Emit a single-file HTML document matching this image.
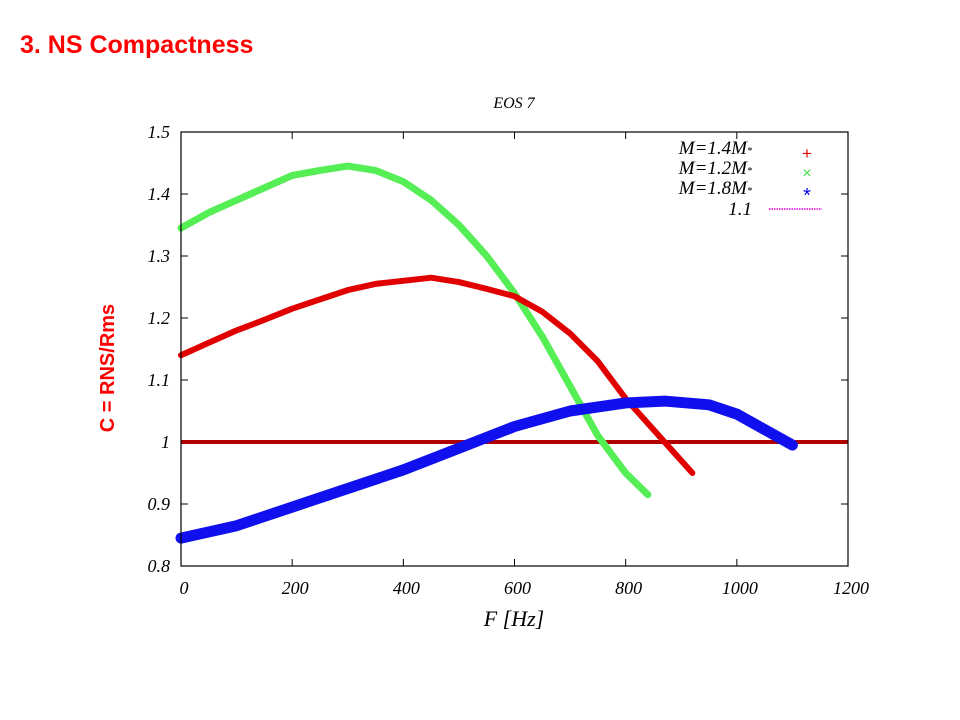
<!DOCTYPE html>
<html><head><meta charset="utf-8"><style>
body{margin:0;background:#fff;width:960px;height:720px;overflow:hidden}
svg{display:block}
.t{font-family:"Liberation Serif",serif;font-style:italic;fill:#000}
</style></head><body>
<svg id="chart" width="960" height="720" xmlns="http://www.w3.org/2000/svg">
<text x="20" y="53" font-family="Liberation Sans,sans-serif" font-weight="bold" font-size="25" fill="#ff0000">3. NS Compactness</text>
<text class="t" x="514" y="108" font-size="16" text-anchor="middle">EOS 7</text>
<text transform="translate(114,368) rotate(-90)" text-anchor="middle" font-family="Liberation Sans,sans-serif" font-weight="bold" font-size="20" fill="#ff0000">C = RNS/Rms</text>
<text class="t" x="514" y="626" font-size="22" text-anchor="middle">F [Hz]</text>
<g id="axes"></g>
<g id="series"></g>
<rect x="181" y="132" width="667" height="434" fill="none" stroke="#000" stroke-width="1.2"/>
<g>
<text class="t" x="752" y="154" font-size="19" text-anchor="end">M=1.4M<tspan font-size="10">*</tspan></text>
<text x="807" y="159" font-size="17" fill="#e00000" text-anchor="middle" font-family="Liberation Sans,sans-serif">+</text>
<text class="t" x="752" y="174" font-size="19" text-anchor="end">M=1.2M<tspan font-size="10">*</tspan></text>
<text x="807" y="178" font-size="16" fill="#44dd44" text-anchor="middle" font-family="Liberation Sans,sans-serif">×</text>
<text class="t" x="752" y="194" font-size="19" text-anchor="end">M=1.8M<tspan font-size="10">*</tspan></text>
<text x="807" y="202" font-size="20" fill="#0000ee" text-anchor="middle" font-family="Liberation Sans,sans-serif">*</text>
<text class="t" x="752" y="215" font-size="19" text-anchor="end">1.1</text>
<line x1="769" y1="209" x2="822" y2="209" stroke="#dd00dd" stroke-dasharray="1.5,1" stroke-width="1.6"/>
</g>
</svg>
<script>
const xTicks=[0,200,400,600,800,1000,1200];
const yTicks=[0.8,0.9,1,1.1,1.2,1.3,1.4,1.5];
const yTickLabels=["0.8","0.9","1","1.1","1.2","1.3","1.4","1.5"];
const redF=[0,50,100,150,200,250,300,350,400,450,500,550,600,650,700,750,800,850,880,920];
const redC=[1.14,1.16,1.18,1.197,1.215,1.23,1.245,1.255,1.26,1.265,1.258,1.247,1.235,1.21,1.175,1.13,1.07,1.02,0.99,0.95];
const greenF=[0,50,100,150,200,250,300,350,400,450,500,550,600,650,700,750,800,840];
const greenC=[1.345,1.37,1.39,1.41,1.43,1.438,1.445,1.438,1.42,1.39,1.35,1.30,1.24,1.17,1.09,1.01,0.95,0.915];
const blueF=[0,100,200,300,400,500,600,700,800,870,950,1000,1050,1100];
const blueC=[0.845,0.865,0.895,0.925,0.955,0.99,1.025,1.05,1.063,1.066,1.06,1.045,1.02,0.995];
const refC=1;
const X=f=>181+f*(667/1200), Y=c=>566-(c-0.8)*(434/0.7);
const NS="http://www.w3.org/2000/svg";
const ax=document.getElementById('axes'), se=document.getElementById('series');
function mk(p,tag,a){const e=document.createElementNS(NS,tag);for(const k in a)e.setAttribute(k,a[k]);p.appendChild(e);return e;}
xTicks.forEach(v=>{
 const l=mk(ax,'line',{x1:X(v),x2:X(v),y1:566,y2:559,stroke:'#000'});
 
 
 mk(ax,'line',{x1:X(v),x2:X(v),y1:132,y2:139,stroke:'#000'});
 const t=mk(ax,'text',{x:X(v)+3,y:594,'font-size':18,'text-anchor':'middle',class:'t'});t.textContent=v;
 
 
});
yTicks.forEach((v,i)=>{
 const l=mk(ax,'line',{x1:181,x2:188,y1:Y(v),y2:Y(v),stroke:'#000'});
 
 
 mk(ax,'line',{x1:841,x2:848,y1:Y(v),y2:Y(v),stroke:'#000'});
 const t=mk(ax,'text',{x:170,y:Y(v)+6,'font-size':18,'text-anchor':'end',class:'t'});t.textContent=yTickLabels[i];
 
 
});
const rl=mk(se,'line',{x1:181,x2:848,y1:Y(refC),y2:Y(refC),stroke:'#b00000',"stroke-width":4});


function series(F,C,col,w,name){
 const pts=F.map((f,i)=>X(f)+','+Y(C[i])).join(' ');
 const p=mk(se,'polyline',{points:pts,fill:'none',stroke:col,'stroke-width':w,'stroke-linejoin':'round','stroke-linecap':'round'});
 
 
}
series(greenF,greenC,'#55ee55',7,'series-m1.2');
series(redF,redC,'#e00000',6,'series-m1.4');
series(blueF,blueC,'#1010ee',11,'series-m1.8');
</script>
</body></html>
